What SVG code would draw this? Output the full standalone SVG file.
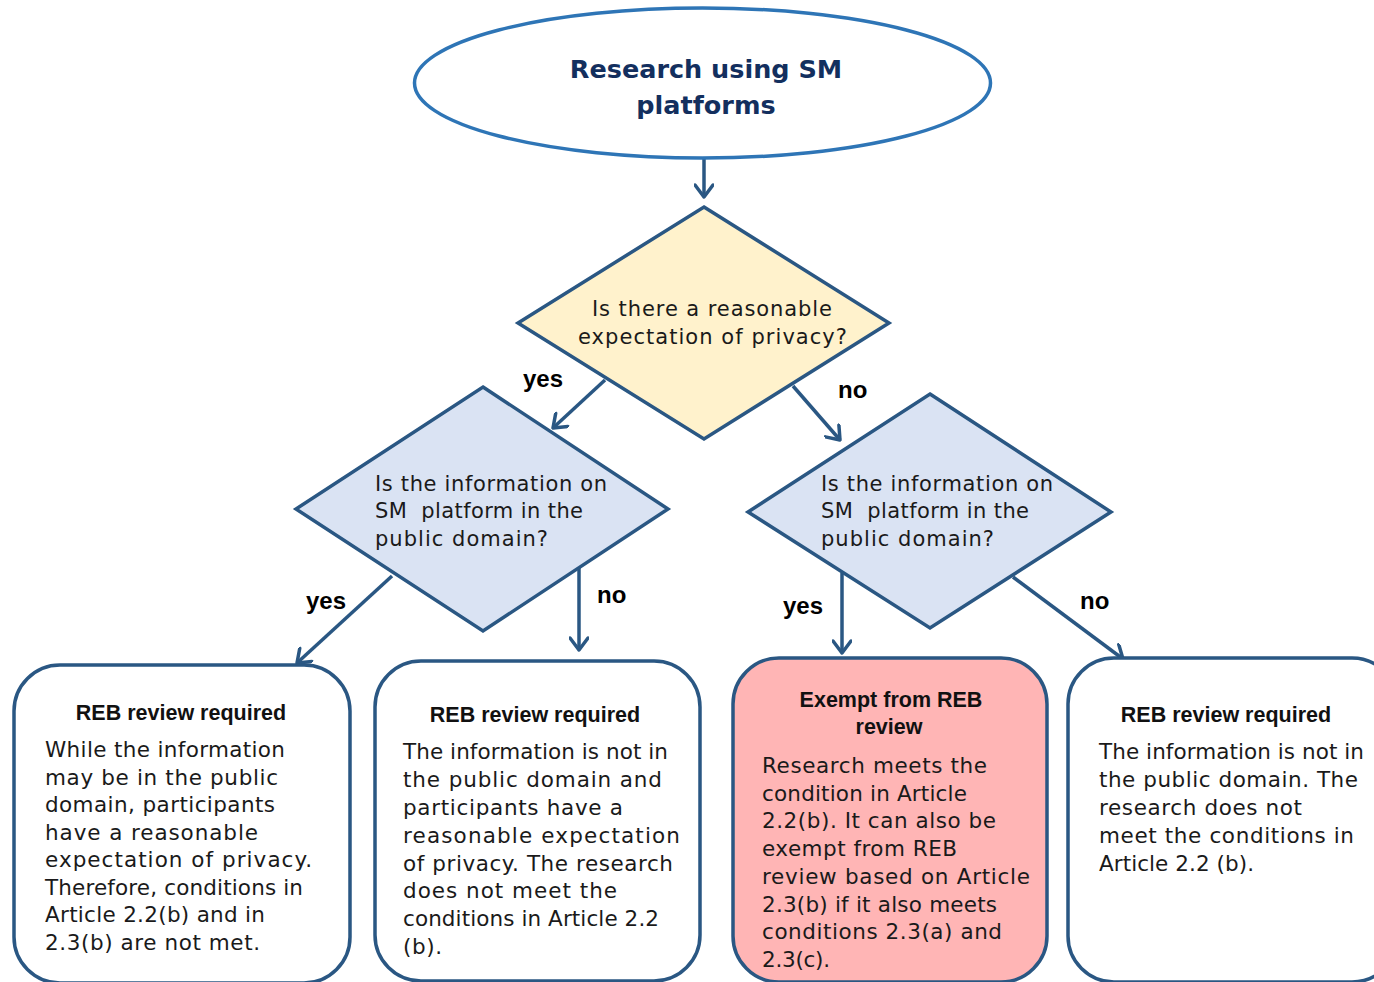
<svg xmlns="http://www.w3.org/2000/svg" width="1374" height="982" viewBox="0 0 1374 982">
<style>
.body{font-family:"DejaVu Sans",sans-serif;font-size:21.5px;fill:#1a1a1a}
.dtxt{font-family:"DejaVu Sans",sans-serif;font-size:21px;fill:#1a1a1a;white-space:pre}
.ttl{font-family:"Liberation Sans",Arial,sans-serif;font-size:21.5px;font-weight:bold;fill:#111;text-anchor:middle}
.lbl{font-family:"Liberation Sans",Arial,sans-serif;font-size:24px;font-weight:bold;fill:#000}
.dia{stroke:#2A5783;stroke-width:3.5;stroke-linejoin:miter}
.box{fill:#fff;stroke:#2A5783;stroke-width:3.5}
.con{stroke:#2A5783;stroke-width:3.5;fill:none;marker-end:url(#ah)}
</style>
<defs>
<marker id="ah" viewBox="0 0 16 20" refX="14" refY="10" markerWidth="16" markerHeight="20" markerUnits="userSpaceOnUse" orient="auto">
<path d="M2,1 L14,10 L2,19" fill="none" stroke="#2A5783" stroke-width="3.5" stroke-linecap="round" stroke-linejoin="round"/>
</marker>
</defs>
<rect width="1374" height="982" fill="#fff"/>

<g id="connectors">
<line class="con" x1="704" y1="158" x2="704" y2="197"/>
<line class="con" x1="605" y1="380" x2="553" y2="428"/>
<line class="con" x1="793" y1="386" x2="840" y2="440"/>
<line class="con" x1="392" y1="576" x2="297" y2="663"/>
<line class="con" x1="579" y1="567" x2="579" y2="650"/>
<line class="con" x1="842" y1="573" x2="842" y2="653"/>
<line class="con" x1="1013" y1="577" x2="1123" y2="659"/>
<text class="lbl" x="523" y="387">yes</text>
<text class="lbl" x="838" y="398">no</text>
<text class="lbl" x="306" y="609">yes</text>
<text class="lbl" x="597" y="603">no</text>
<text class="lbl" x="783" y="614">yes</text>
<text class="lbl" x="1080" y="609">no</text>
</g>

<g id="start">
<ellipse cx="702.5" cy="83" rx="288" ry="75" fill="#fff" stroke="#2E75B6" stroke-width="3.5"/>
<text x="706" y="78" font-family="DejaVu Sans,sans-serif" font-size="25.5" font-weight="bold" fill="#132F5E" text-anchor="middle">Research using SM</text>
<text x="706" y="114" font-family="DejaVu Sans,sans-serif" font-size="25.5" font-weight="bold" fill="#132F5E" text-anchor="middle">platforms</text>
</g>

<g id="q1">
<polygon class="dia" points="704,207 889,323 704,439 518,323" fill="#FFF2CC"/>
<text class="dtxt" x="592" y="316" font-size="22" textLength="240" lengthAdjust="spacing">Is there a reasonable</text>
<text class="dtxt" x="578" y="344" font-size="22" textLength="269" lengthAdjust="spacing">expectation of privacy?</text>
</g>

<g id="q2">
<polygon class="dia" points="483,387 668,509 483,631 296,509" fill="#DAE3F3"/>
<text class="dtxt" x="375" y="491" textLength="232" lengthAdjust="spacing">Is the information on</text>
<text class="dtxt" x="375" y="518" textLength="208" lengthAdjust="spacing">SM  platform in the</text>
<text class="dtxt" x="375" y="546" textLength="173" lengthAdjust="spacing">public domain?</text>
</g>

<g id="q3">
<polygon class="dia" points="930,394 1111,512 930,628 748,512" fill="#DAE3F3"/>
<text class="dtxt" x="821" y="491" textLength="232" lengthAdjust="spacing">Is the information on</text>
<text class="dtxt" x="821" y="518" textLength="208" lengthAdjust="spacing">SM  platform in the</text>
<text class="dtxt" x="821" y="546" textLength="173" lengthAdjust="spacing">public domain?</text>
</g>

<g id="r1">
<rect class="box" x="14" y="665" width="336" height="318" rx="46" ry="46"/>
<text class="ttl" x="181" y="720">REB review required</text>
<text class="body" x="45" y="757" textLength="240" lengthAdjust="spacing">While the information</text>
<text class="body" x="45" y="784.5" textLength="233" lengthAdjust="spacing">may be in the public</text>
<text class="body" x="45" y="812" textLength="230" lengthAdjust="spacing">domain, participants</text>
<text class="body" x="45" y="839.5" textLength="213" lengthAdjust="spacing">have a reasonable</text>
<text class="body" x="45" y="867" textLength="267" lengthAdjust="spacing">expectation of privacy.</text>
<text class="body" x="45" y="894.5" textLength="258" lengthAdjust="spacing">Therefore, conditions in</text>
<text class="body" x="45" y="922" textLength="220" lengthAdjust="spacing">Article 2.2(b) and in</text>
<text class="body" x="45" y="949.5" textLength="215" lengthAdjust="spacing">2.3(b) are not met.</text>
</g>

<g id="r2">
<rect class="box" x="375" y="661" width="325" height="320" rx="46" ry="46"/>
<text class="ttl" x="535" y="722">REB review required</text>
<text class="body" x="403" y="759" textLength="265" lengthAdjust="spacing">The information is not in</text>
<text class="body" x="403" y="787" textLength="259" lengthAdjust="spacing">the public domain and</text>
<text class="body" x="403" y="815" textLength="220" lengthAdjust="spacing">participants have a</text>
<text class="body" x="403" y="843" textLength="277" lengthAdjust="spacing">reasonable expectation</text>
<text class="body" x="403" y="871" textLength="270" lengthAdjust="spacing">of privacy. The research</text>
<text class="body" x="403" y="898" textLength="214" lengthAdjust="spacing">does not meet the</text>
<text class="body" x="403" y="926" textLength="256" lengthAdjust="spacing">conditions in Article 2.2</text>
<text class="body" x="403" y="954" textLength="39" lengthAdjust="spacing">(b).</text>
</g>

<g id="r3">
<rect class="box" x="733" y="658" width="314" height="324" rx="46" ry="46" style="fill:#FFB5B5"/>
<text class="ttl" x="891" y="707">Exempt from REB</text>
<text class="ttl" x="889" y="734">review</text>
<text class="body" x="762" y="773" textLength="225" lengthAdjust="spacing">Research meets the</text>
<text class="body" x="762" y="800.5" textLength="205" lengthAdjust="spacing">condition in Article</text>
<text class="body" x="762" y="828" textLength="234" lengthAdjust="spacing">2.2(b). It can also be</text>
<text class="body" x="762" y="856" textLength="195" lengthAdjust="spacing">exempt from REB</text>
<text class="body" x="762" y="884" textLength="268" lengthAdjust="spacing">review based on Article</text>
<text class="body" x="762" y="911.5" textLength="235" lengthAdjust="spacing">2.3(b) if it also meets</text>
<text class="body" x="762" y="939" textLength="240" lengthAdjust="spacing">conditions 2.3(a) and</text>
<text class="body" x="762" y="967" textLength="68" lengthAdjust="spacing">2.3(c).</text>
</g>

<g id="r4">
<rect class="box" x="1068" y="658" width="330" height="324" rx="46" ry="46"/>
<text class="ttl" x="1226" y="722">REB review required</text>
<text class="body" x="1099" y="759" textLength="265" lengthAdjust="spacing">The information is not in</text>
<text class="body" x="1099" y="787" textLength="259" lengthAdjust="spacing">the public domain. The</text>
<text class="body" x="1099" y="815" textLength="203" lengthAdjust="spacing">research does not</text>
<text class="body" x="1099" y="843" textLength="255" lengthAdjust="spacing">meet the conditions in</text>
<text class="body" x="1099" y="871" textLength="155" lengthAdjust="spacing">Article 2.2 (b).</text>
</g>
</svg>
